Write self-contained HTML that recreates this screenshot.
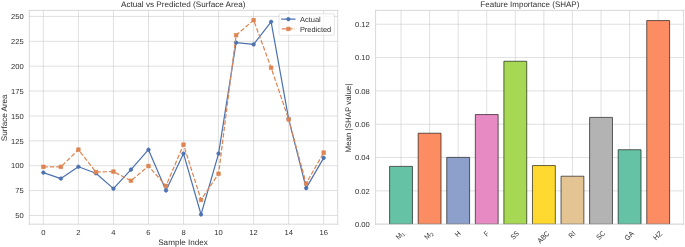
<!DOCTYPE html>
<html><head><meta charset="utf-8"><style>
html,body{margin:0;padding:0;background:#fff;}
body{width:685px;height:247px;overflow:hidden;font-family:"Liberation Sans",sans-serif;}
svg{display:block;will-change:transform;} text,tspan{text-rendering:geometricPrecision;} text,tspan{fill:#303030 !important}
</style></head><body>
<svg width="685" height="247" viewBox="11.8716 11.8881 1129.6381 407.3294" preserveAspectRatio="none"> 
<defs> 
<style type="text/css">*{stroke-linejoin: round; stroke-linecap: butt}</style> 
</defs> 
<g id="figure_1"> 
<g id="patch_1"> 
<path d="M 0 432  
L 1152 432  
L 1152 0  
L 0 0  
z 
" style="fill: #ffffff"/> 
</g> 
<g id="axes_1"> 
<g id="patch_2"> 
<path d="M 60.272872 381.61781  
L 568.774934 381.61781  
L 568.774934 29.038791  
L 60.272872 29.038791  
z 
" style="fill: #ffffff"/> 
</g> 
<g id="matplotlib.axis_1"> 
<g id="xtick_1"> 
<g id="line2d_1"> 
<path d="M 83.386602 381.61781  
L 83.386602 29.038791  
" clip-path="url(#pbd55c10c58)" style="fill: none; stroke: #cccccc; stroke-linecap: round"/> 
</g> 
<g id="text_1" transform="translate(0.000 -0.825)"> 
<text style="font-size: 12.100px; font-family: 'Liberation Sans'; text-anchor: middle; fill: #262626" x="83.386602" y="399.476092" transform="rotate(-0 83.386602 399.476092)" textLength="6.999" lengthAdjust="spacingAndGlyphs">0</text> 
</g> 
</g> 
<g id="xtick_2"> 
<g id="line2d_2"> 
<path d="M 141.170927 381.61781  
L 141.170927 29.038791  
" clip-path="url(#pbd55c10c58)" style="fill: none; stroke: #cccccc; stroke-linecap: round"/> 
</g> 
<g id="text_2" transform="translate(0.000 -0.825)"> 
<text style="font-size: 12.100px; font-family: 'Liberation Sans'; text-anchor: middle; fill: #262626" x="141.170927" y="399.476092" transform="rotate(-0 141.170927 399.476092)" textLength="6.999" lengthAdjust="spacingAndGlyphs">2</text> 
</g> 
</g> 
<g id="xtick_3"> 
<g id="line2d_3"> 
<path d="M 198.955253 381.61781  
L 198.955253 29.038791  
" clip-path="url(#pbd55c10c58)" style="fill: none; stroke: #cccccc; stroke-linecap: round"/> 
</g> 
<g id="text_3" transform="translate(0.000 -0.825)"> 
<text style="font-size: 12.100px; font-family: 'Liberation Sans'; text-anchor: middle; fill: #262626" x="198.955253" y="399.476092" transform="rotate(-0 198.955253 399.476092)" textLength="6.999" lengthAdjust="spacingAndGlyphs">4</text> 
</g> 
</g> 
<g id="xtick_4"> 
<g id="line2d_4"> 
<path d="M 256.739578 381.61781  
L 256.739578 29.038791  
" clip-path="url(#pbd55c10c58)" style="fill: none; stroke: #cccccc; stroke-linecap: round"/> 
</g> 
<g id="text_4" transform="translate(0.000 -0.825)"> 
<text style="font-size: 12.100px; font-family: 'Liberation Sans'; text-anchor: middle; fill: #262626" x="256.739578" y="399.476092" transform="rotate(-0 256.739578 399.476092)" textLength="6.999" lengthAdjust="spacingAndGlyphs">6</text> 
</g> 
</g> 
<g id="xtick_5"> 
<g id="line2d_5"> 
<path d="M 314.523903 381.61781  
L 314.523903 29.038791  
" clip-path="url(#pbd55c10c58)" style="fill: none; stroke: #cccccc; stroke-linecap: round"/> 
</g> 
<g id="text_5" transform="translate(0.000 -0.825)"> 
<text style="font-size: 12.100px; font-family: 'Liberation Sans'; text-anchor: middle; fill: #262626" x="314.523903" y="399.476092" transform="rotate(-0 314.523903 399.476092)" textLength="6.999" lengthAdjust="spacingAndGlyphs">8</text> 
</g> 
</g> 
<g id="xtick_6"> 
<g id="line2d_6"> 
<path d="M 372.308228 381.61781  
L 372.308228 29.038791  
" clip-path="url(#pbd55c10c58)" style="fill: none; stroke: #cccccc; stroke-linecap: round"/> 
</g> 
<g id="text_6" transform="translate(0.000 -0.825)"> 
<text style="font-size: 12.100px; font-family: 'Liberation Sans'; text-anchor: middle; fill: #262626" x="372.308228" y="399.476092" transform="rotate(-0 372.308228 399.476092)" textLength="13.997" lengthAdjust="spacingAndGlyphs">10</text> 
</g> 
</g> 
<g id="xtick_7"> 
<g id="line2d_7"> 
<path d="M 430.092553 381.61781  
L 430.092553 29.038791  
" clip-path="url(#pbd55c10c58)" style="fill: none; stroke: #cccccc; stroke-linecap: round"/> 
</g> 
<g id="text_7" transform="translate(0.000 -0.825)"> 
<text style="font-size: 12.100px; font-family: 'Liberation Sans'; text-anchor: middle; fill: #262626" x="430.092553" y="399.476092" transform="rotate(-0 430.092553 399.476092)" textLength="13.997" lengthAdjust="spacingAndGlyphs">12</text> 
</g> 
</g> 
<g id="xtick_8"> 
<g id="line2d_8"> 
<path d="M 487.876878 381.61781  
L 487.876878 29.038791  
" clip-path="url(#pbd55c10c58)" style="fill: none; stroke: #cccccc; stroke-linecap: round"/> 
</g> 
<g id="text_8" transform="translate(0.000 -0.825)"> 
<text style="font-size: 12.100px; font-family: 'Liberation Sans'; text-anchor: middle; fill: #262626" x="487.876878" y="399.476092" transform="rotate(-0 487.876878 399.476092)" textLength="13.997" lengthAdjust="spacingAndGlyphs">14</text> 
</g> 
</g> 
<g id="xtick_9"> 
<g id="line2d_9"> 
<path d="M 545.661204 381.61781  
L 545.661204 29.038791  
" clip-path="url(#pbd55c10c58)" style="fill: none; stroke: #cccccc; stroke-linecap: round"/> 
</g> 
<g id="text_9" transform="translate(0.000 -0.825)"> 
<text style="font-size: 12.100px; font-family: 'Liberation Sans'; text-anchor: middle; fill: #262626" x="545.661204" y="399.476092" transform="rotate(-0 545.661204 399.476092)" textLength="13.997" lengthAdjust="spacingAndGlyphs">16</text> 
</g> 
</g> 
<g id="text_10" transform="translate(-0.825 0.412)"> 
<text style="font-size: 13.200px; font-family: 'Liberation Sans'; text-anchor: middle; fill: #262626" x="314.523903" y="414.881873" transform="rotate(-0 314.523903 414.881873)" textLength="81.844" lengthAdjust="spacingAndGlyphs">Sample Index</text> 
</g> 
</g> 
<g id="matplotlib.axis_2"> 
<g id="ytick_1"> 
<g id="line2d_10"> 
<path d="M 60.272872 367.232691  
L 568.774934 367.232691  
" clip-path="url(#pbd55c10c58)" style="fill: none; stroke: #cccccc; stroke-linecap: round"/> 
</g> 
<g id="text_11" transform="translate(0.412 0.412)"> 
<text style="font-size: 12.100px; font-family: 'Liberation Sans'; text-anchor: end; fill: #262626" x="50.772872" y="371.411832" transform="rotate(-0 50.772872 371.411832)" textLength="13.997" lengthAdjust="spacingAndGlyphs">50</text> 
</g> 
</g> 
<g id="ytick_2"> 
<g id="line2d_11"> 
<path d="M 60.272872 326.202689  
L 568.774934 326.202689  
" clip-path="url(#pbd55c10c58)" style="fill: none; stroke: #cccccc; stroke-linecap: round"/> 
</g> 
<g id="text_12" transform="translate(0.412 0.412)"> 
<text style="font-size: 12.100px; font-family: 'Liberation Sans'; text-anchor: end; fill: #262626" x="50.772872" y="330.381829" transform="rotate(-0 50.772872 330.381829)" textLength="13.997" lengthAdjust="spacingAndGlyphs">75</text> 
</g> 
</g> 
<g id="ytick_3"> 
<g id="line2d_12"> 
<path d="M 60.272872 285.172686  
L 568.774934 285.172686  
" clip-path="url(#pbd55c10c58)" style="fill: none; stroke: #cccccc; stroke-linecap: round"/> 
</g> 
<g id="text_13" transform="translate(0.412 0.412)"> 
<text style="font-size: 12.100px; font-family: 'Liberation Sans'; text-anchor: end; fill: #262626" x="50.772872" y="289.351826" transform="rotate(-0 50.772872 289.351826)" textLength="20.996" lengthAdjust="spacingAndGlyphs">100</text> 
</g> 
</g> 
<g id="ytick_4"> 
<g id="line2d_13"> 
<path d="M 60.272872 244.142683  
L 568.774934 244.142683  
" clip-path="url(#pbd55c10c58)" style="fill: none; stroke: #cccccc; stroke-linecap: round"/> 
</g> 
<g id="text_14" transform="translate(0.412 0.412)"> 
<text style="font-size: 12.100px; font-family: 'Liberation Sans'; text-anchor: end; fill: #262626" x="50.772872" y="248.321824" transform="rotate(-0 50.772872 248.321824)" textLength="20.996" lengthAdjust="spacingAndGlyphs">125</text> 
</g> 
</g> 
<g id="ytick_5"> 
<g id="line2d_14"> 
<path d="M 60.272872 203.11268  
L 568.774934 203.11268  
" clip-path="url(#pbd55c10c58)" style="fill: none; stroke: #cccccc; stroke-linecap: round"/> 
</g> 
<g id="text_15" transform="translate(0.412 0.412)"> 
<text style="font-size: 12.100px; font-family: 'Liberation Sans'; text-anchor: end; fill: #262626" x="50.772872" y="207.291821" transform="rotate(-0 50.772872 207.291821)" textLength="20.996" lengthAdjust="spacingAndGlyphs">150</text> 
</g> 
</g> 
<g id="ytick_6"> 
<g id="line2d_15"> 
<path d="M 60.272872 162.082678  
L 568.774934 162.082678  
" clip-path="url(#pbd55c10c58)" style="fill: none; stroke: #cccccc; stroke-linecap: round"/> 
</g> 
<g id="text_16" transform="translate(0.412 0.412)"> 
<text style="font-size: 12.100px; font-family: 'Liberation Sans'; text-anchor: end; fill: #262626" x="50.772872" y="166.261818" transform="rotate(-0 50.772872 166.261818)" textLength="20.996" lengthAdjust="spacingAndGlyphs">175</text> 
</g> 
</g> 
<g id="ytick_7"> 
<g id="line2d_16"> 
<path d="M 60.272872 121.052675  
L 568.774934 121.052675  
" clip-path="url(#pbd55c10c58)" style="fill: none; stroke: #cccccc; stroke-linecap: round"/> 
</g> 
<g id="text_17" transform="translate(0.412 0.412)"> 
<text style="font-size: 12.100px; font-family: 'Liberation Sans'; text-anchor: end; fill: #262626" x="50.772872" y="125.231815" transform="rotate(-0 50.772872 125.231815)" textLength="20.996" lengthAdjust="spacingAndGlyphs">200</text> 
</g> 
</g> 
<g id="ytick_8"> 
<g id="line2d_17"> 
<path d="M 60.272872 80.022672  
L 568.774934 80.022672  
" clip-path="url(#pbd55c10c58)" style="fill: none; stroke: #cccccc; stroke-linecap: round"/> 
</g> 
<g id="text_18" transform="translate(0.412 0.412)"> 
<text style="font-size: 12.100px; font-family: 'Liberation Sans'; text-anchor: end; fill: #262626" x="50.772872" y="84.201813" transform="rotate(-0 50.772872 84.201813)" textLength="20.996" lengthAdjust="spacingAndGlyphs">225</text> 
</g> 
</g> 
<g id="ytick_9"> 
<g id="line2d_18"> 
<path d="M 60.272872 38.992669  
L 568.774934 38.992669  
" clip-path="url(#pbd55c10c58)" style="fill: none; stroke: #cccccc; stroke-linecap: round"/> 
</g> 
<g id="text_19" transform="translate(0.412 0.412)"> 
<text style="font-size: 12.100px; font-family: 'Liberation Sans'; text-anchor: end; fill: #262626" x="50.772872" y="43.17181" transform="rotate(-0 50.772872 43.17181)" textLength="20.996" lengthAdjust="spacingAndGlyphs">250</text> 
</g> 
</g> 
<g id="text_20" transform="translate(-0.412 0.825)"> 
<text style="font-size: 13.200px; font-family: 'Liberation Sans'; text-anchor: middle; fill: #262626" x="23.280997" y="205.328301" transform="rotate(-90 23.280997 205.328301)" textLength="77.145" lengthAdjust="spacingAndGlyphs">Surface Area</text> 
</g> 
</g> 
<g id="line2d_19"> 
<path d="M 83.386602 296.496967  
L 112.278765 306.344167  
L 141.170927 286.813886  
L 170.06309 297.645807  
L 198.955253 322.920288  
L 227.847415 291.573366  
L 256.739578 258.749364  
L 285.63174 326.038569  
L 314.523903 265.150045  
L 343.416065 365.591491  
L 372.308228 265.150045  
L 401.200391 82.156232  
L 430.092553 85.110392  
L 458.984716 47.85515  
L 487.876878 208.036281  
L 516.769041 322.099688  
L 545.661204 272.207205  
" clip-path="url(#pbd55c10c58)" style="fill: none; stroke: #4c72b0; stroke-width: 2; stroke-linecap: round"/> 
<defs> 
<path id="m9d25371bbb" d="M 0 3  
C 0.795609 3 1.55874 2.683901 2.12132 2.12132  
C 2.683901 1.55874 3 0.795609 3 0  
C 3 -0.795609 2.683901 -1.55874 2.12132 -2.12132  
C 1.55874 -2.683901 0.795609 -3 0 -3  
C -0.795609 -3 -1.55874 -2.683901 -2.12132 -2.12132  
C -2.683901 -1.55874 -3 -0.795609 -3 0  
C -3 0.795609 -2.683901 1.55874 -2.12132 2.12132  
C -1.55874 2.683901 -0.795609 3 0 3  
z 
" style="stroke: #4c72b0"/> 
</defs> 
<g clip-path="url(#pbd55c10c58)"> 
<use href="#m9d25371bbb" x="83.386602" y="296.496967" style="fill: #4c72b0; stroke: #4c72b0"/> 
<use href="#m9d25371bbb" x="112.278765" y="306.344167" style="fill: #4c72b0; stroke: #4c72b0"/> 
<use href="#m9d25371bbb" x="141.170927" y="286.813886" style="fill: #4c72b0; stroke: #4c72b0"/> 
<use href="#m9d25371bbb" x="170.06309" y="297.645807" style="fill: #4c72b0; stroke: #4c72b0"/> 
<use href="#m9d25371bbb" x="198.955253" y="322.920288" style="fill: #4c72b0; stroke: #4c72b0"/> 
<use href="#m9d25371bbb" x="227.847415" y="291.573366" style="fill: #4c72b0; stroke: #4c72b0"/> 
<use href="#m9d25371bbb" x="256.739578" y="258.749364" style="fill: #4c72b0; stroke: #4c72b0"/> 
<use href="#m9d25371bbb" x="285.63174" y="326.038569" style="fill: #4c72b0; stroke: #4c72b0"/> 
<use href="#m9d25371bbb" x="314.523903" y="265.150045" style="fill: #4c72b0; stroke: #4c72b0"/> 
<use href="#m9d25371bbb" x="343.416065" y="365.591491" style="fill: #4c72b0; stroke: #4c72b0"/> 
<use href="#m9d25371bbb" x="372.308228" y="265.150045" style="fill: #4c72b0; stroke: #4c72b0"/> 
<use href="#m9d25371bbb" x="401.200391" y="82.156232" style="fill: #4c72b0; stroke: #4c72b0"/> 
<use href="#m9d25371bbb" x="430.092553" y="85.110392" style="fill: #4c72b0; stroke: #4c72b0"/> 
<use href="#m9d25371bbb" x="458.984716" y="47.85515" style="fill: #4c72b0; stroke: #4c72b0"/> 
<use href="#m9d25371bbb" x="487.876878" y="208.036281" style="fill: #4c72b0; stroke: #4c72b0"/> 
<use href="#m9d25371bbb" x="516.769041" y="322.099688" style="fill: #4c72b0; stroke: #4c72b0"/> 
<use href="#m9d25371bbb" x="545.661204" y="272.207205" style="fill: #4c72b0; stroke: #4c72b0"/> 
</g> 
</g> 
<g id="line2d_20"> 
<path d="M 83.386602 286.978006  
L 112.278765 286.978006  
L 141.170927 258.749364  
L 170.06309 295.676367  
L 198.955253 294.855767  
L 227.847415 309.954808  
L 256.739578 285.665046  
L 285.63174 318.489048  
L 314.523903 250.379244  
L 343.416065 341.46585  
L 372.308228 298.466407  
L 401.200391 70.011351  
L 430.092553 45.06511  
L 458.984716 123.678595  
L 487.876878 208.692761  
L 516.769041 314.550168  
L 545.661204 263.508844  
" clip-path="url(#pbd55c10c58)" style="fill: none; stroke-dasharray: 7.4,3.2; stroke-dashoffset: 0; stroke: #dd8452; stroke-width: 2"/> 
<defs> 
<path id="m1f9190dd8e" d="M -3 3  
L 3 3  
L 3 -3  
L -3 -3  
z 
" style="stroke: #dd8452; stroke-linejoin: miter"/> 
</defs> 
<g clip-path="url(#pbd55c10c58)"> 
<use href="#m1f9190dd8e" x="83.386602" y="286.978006" style="fill: #dd8452; stroke: #dd8452; stroke-linejoin: miter"/> 
<use href="#m1f9190dd8e" x="112.278765" y="286.978006" style="fill: #dd8452; stroke: #dd8452; stroke-linejoin: miter"/> 
<use href="#m1f9190dd8e" x="141.170927" y="258.749364" style="fill: #dd8452; stroke: #dd8452; stroke-linejoin: miter"/> 
<use href="#m1f9190dd8e" x="170.06309" y="295.676367" style="fill: #dd8452; stroke: #dd8452; stroke-linejoin: miter"/> 
<use href="#m1f9190dd8e" x="198.955253" y="294.855767" style="fill: #dd8452; stroke: #dd8452; stroke-linejoin: miter"/> 
<use href="#m1f9190dd8e" x="227.847415" y="309.954808" style="fill: #dd8452; stroke: #dd8452; stroke-linejoin: miter"/> 
<use href="#m1f9190dd8e" x="256.739578" y="285.665046" style="fill: #dd8452; stroke: #dd8452; stroke-linejoin: miter"/> 
<use href="#m1f9190dd8e" x="285.63174" y="318.489048" style="fill: #dd8452; stroke: #dd8452; stroke-linejoin: miter"/> 
<use href="#m1f9190dd8e" x="314.523903" y="250.379244" style="fill: #dd8452; stroke: #dd8452; stroke-linejoin: miter"/> 
<use href="#m1f9190dd8e" x="343.416065" y="341.46585" style="fill: #dd8452; stroke: #dd8452; stroke-linejoin: miter"/> 
<use href="#m1f9190dd8e" x="372.308228" y="298.466407" style="fill: #dd8452; stroke: #dd8452; stroke-linejoin: miter"/> 
<use href="#m1f9190dd8e" x="401.200391" y="70.011351" style="fill: #dd8452; stroke: #dd8452; stroke-linejoin: miter"/> 
<use href="#m1f9190dd8e" x="430.092553" y="45.06511" style="fill: #dd8452; stroke: #dd8452; stroke-linejoin: miter"/> 
<use href="#m1f9190dd8e" x="458.984716" y="123.678595" style="fill: #dd8452; stroke: #dd8452; stroke-linejoin: miter"/> 
<use href="#m1f9190dd8e" x="487.876878" y="208.692761" style="fill: #dd8452; stroke: #dd8452; stroke-linejoin: miter"/> 
<use href="#m1f9190dd8e" x="516.769041" y="314.550168" style="fill: #dd8452; stroke: #dd8452; stroke-linejoin: miter"/> 
<use href="#m1f9190dd8e" x="545.661204" y="263.508844" style="fill: #dd8452; stroke: #dd8452; stroke-linejoin: miter"/> 
</g> 
</g> 
<g id="patch_3"> 
<path d="M 60.272872 381.61781  
L 60.272872 29.038791  
" style="fill: none; stroke: #cccccc; stroke-width: 1.25; stroke-linejoin: miter; stroke-linecap: square"/> 
</g> 
<g id="patch_4"> 
<path d="M 568.774934 381.61781  
L 568.774934 29.038791  
" style="fill: none; stroke: #cccccc; stroke-width: 1.25; stroke-linejoin: miter; stroke-linecap: square"/> 
</g> 
<g id="patch_5"> 
<path d="M 60.272872 381.61781  
L 568.774934 381.61781  
" style="fill: none; stroke: #cccccc; stroke-width: 1.25; stroke-linejoin: miter; stroke-linecap: square"/> 
</g> 
<g id="patch_6"> 
<path d="M 60.272872 29.038791  
L 568.774934 29.038791  
" style="fill: none; stroke: #cccccc; stroke-width: 1.25; stroke-linejoin: miter; stroke-linecap: square"/> 
</g> 
<g id="text_21" transform="translate(-0.412 -0.412)"> 
<text style="font-size: 13.200px; font-family: 'Liberation Sans'; text-anchor: middle; fill: #262626" x="314.523903" y="23.038791" transform="rotate(-0 314.523903 23.038791)" textLength="205.232" lengthAdjust="spacingAndGlyphs">Actual vs Predicted (Surface Area)</text> 
</g> 
<g id="legend_1"> 
<g id="patch_7"> 
<path d="M 474.240246 70.130666  
L 561.074934 70.130666  
Q 563.274934 70.130666 563.274934 67.930666  
L 563.274934 36.738791  
Q 563.274934 34.538791 561.074934 34.538791  
L 474.240246 34.538791  
Q 472.040246 34.538791 472.040246 36.738791  
L 472.040246 67.930666  
Q 472.040246 70.130666 474.240246 70.130666  
z 
" style="fill: #ffffff; opacity: 0.8; stroke: #cccccc; stroke-linejoin: miter"/> 
</g> 
<g id="line2d_21"> 
<path d="M 476.440246 43.447072  
L 487.440246 43.447072  
L 498.440246 43.447072  
" style="fill: none; stroke: #4c72b0; stroke-width: 2; stroke-linecap: round"/> 
<g> 
<use href="#m9d25371bbb" x="487.440246" y="43.447072" style="fill: #4c72b0; stroke: #4c72b0"/> 
</g> 
</g> 
<g id="text_22" transform="translate(-0.825 0.412)"> 
<text style="font-size: 12.100px; font-family: 'Liberation Sans'; text-anchor: start; fill: #262626" x="507.240246" y="47.297072" transform="rotate(-0 507.240246 47.297072)" textLength="34.461" lengthAdjust="spacingAndGlyphs">Actual</text> 
</g> 
<g id="line2d_22"> 
<path d="M 476.440246 59.593009  
L 487.440246 59.593009  
L 498.440246 59.593009  
" style="fill: none; stroke-dasharray: 7.4,3.2; stroke-dashoffset: 0; stroke: #dd8452; stroke-width: 2"/> 
<g> 
<use href="#m1f9190dd8e" x="487.440246" y="59.593009" style="fill: #dd8452; stroke: #dd8452; stroke-linejoin: miter"/> 
</g> 
</g> 
<g id="text_23" transform="translate(-0.825 0.412)"> 
<text style="font-size: 12.100px; font-family: 'Liberation Sans'; text-anchor: start; fill: #262626" x="507.240246" y="63.443009" transform="rotate(-0 507.240246 63.443009)" textLength="51.638" lengthAdjust="spacingAndGlyphs">Predicted</text> 
</g> 
</g> 
</g> 
<g id="axes_2"> 
<g id="patch_8"> 
<path d="M 631.276079 381.61781  
L 1139.200953 381.61781  
L 1139.200953 29.038791  
L 631.276079 29.038791  
z 
" style="fill: #ffffff"/> 
</g> 
<g id="matplotlib.axis_3"> 
<g id="xtick_10"> 
<g id="line2d_23"> 
<path d="M 673.210507 381.61781  
L 673.210507 29.038791  
" clip-path="url(#p35ce5a3aeb)" style="fill: none; stroke: #cccccc; stroke-linecap: round"/> 
</g> 
<g id="text_24" transform="translate(0.000 0.825)"> 
<g style="fill: #262626" transform="translate(670.106529 407.528543) rotate(-45)"> 
<text> 
<tspan x="0" y="-0.984375" style="font-size: 12.100px; font-family: 'Liberation Sans'; fill: #262626" textLength="9.491" lengthAdjust="spacingAndGlyphs">M</tspan> 
<tspan x="9.595996" y="0.820312" style="font-size: 8.470px; font-family: 'Liberation Sans'; fill: #262626" textLength="4.899" lengthAdjust="spacingAndGlyphs">1</tspan> 
</text> 
</g> 
</g> 
</g> 
<g id="xtick_11"> 
<g id="line2d_24"> 
<path d="M 720.327842 381.61781  
L 720.327842 29.038791  
" clip-path="url(#p35ce5a3aeb)" style="fill: none; stroke: #cccccc; stroke-linecap: round"/> 
</g> 
<g id="text_25" transform="translate(0.000 0.825)"> 
<g style="fill: #262626" transform="translate(717.223865 407.528543) rotate(-45)"> 
<text> 
<tspan x="0" y="-0.984375" style="font-size: 12.100px; font-family: 'Liberation Sans'; fill: #262626" textLength="9.491" lengthAdjust="spacingAndGlyphs">M</tspan> 
<tspan x="9.595996" y="0.820312" style="font-size: 8.470px; font-family: 'Liberation Sans'; fill: #262626" textLength="4.899" lengthAdjust="spacingAndGlyphs">2</tspan> 
</text> 
</g> 
</g> 
</g> 
<g id="xtick_12"> 
<g id="line2d_25"> 
<path d="M 767.445178 381.61781  
L 767.445178 29.038791  
" clip-path="url(#p35ce5a3aeb)" style="fill: none; stroke: #cccccc; stroke-linecap: round"/> 
</g> 
<g id="text_26" transform="translate(0.000 0.825)"> 
<text style="font-size: 12.100px; font-family: 'Liberation Sans'; fill: #262626" transform="translate(766.666753 402.877438) rotate(-45)" textLength="8.271" lengthAdjust="spacingAndGlyphs">H</text> 
</g> 
</g> 
<g id="xtick_13"> 
<g id="line2d_26"> 
<path d="M 814.562513 381.61781  
L 814.562513 29.038791  
" clip-path="url(#p35ce5a3aeb)" style="fill: none; stroke: #cccccc; stroke-linecap: round"/> 
</g> 
<g id="text_27" transform="translate(0.000 0.825)"> 
<text style="font-size: 12.100px; font-family: 'Liberation Sans'; fill: #262626" transform="translate(814.47197 401.501673) rotate(-45)" textLength="6.327" lengthAdjust="spacingAndGlyphs">F</text> 
</g> 
</g> 
<g id="xtick_14"> 
<g id="line2d_27"> 
<path d="M 861.679848 381.61781  
L 861.679848 29.038791  
" clip-path="url(#p35ce5a3aeb)" style="fill: none; stroke: #cccccc; stroke-linecap: round"/> 
</g> 
<g id="text_28" transform="translate(0.000 0.825)"> 
<text style="font-size: 12.100px; font-family: 'Liberation Sans'; fill: #262626" transform="translate(858.888213 406.903859) rotate(-45)" textLength="13.965" lengthAdjust="spacingAndGlyphs">SS</text> 
</g> 
</g> 
<g id="xtick_15"> 
<g id="line2d_28"> 
<path d="M 908.797183 381.61781  
L 908.797183 29.038791  
" clip-path="url(#p35ce5a3aeb)" style="fill: none; stroke: #cccccc; stroke-linecap: round"/> 
</g> 
<g id="text_29" transform="translate(0.000 0.825)"> 
<text style="font-size: 12.100px; font-family: 'Liberation Sans'; fill: #262626" transform="translate(902.967199 412.980558) rotate(-45)" textLength="22.559" lengthAdjust="spacingAndGlyphs">ABC</text> 
</g> 
</g> 
<g id="xtick_16"> 
<g id="line2d_29"> 
<path d="M 955.914519 381.61781  
L 955.914519 29.038791  
" clip-path="url(#p35ce5a3aeb)" style="fill: none; stroke: #cccccc; stroke-linecap: round"/> 
</g> 
<g id="text_30" transform="translate(0.000 0.825)"> 
<text style="font-size: 12.100px; font-family: 'Liberation Sans'; fill: #262626" transform="translate(954.21122 404.727185) rotate(-45)" textLength="10.887" lengthAdjust="spacingAndGlyphs">RI</text> 
</g> 
</g> 
<g id="xtick_17"> 
<g id="line2d_30"> 
<path d="M 1003.031854 381.61781  
L 1003.031854 29.038791  
" clip-path="url(#p35ce5a3aeb)" style="fill: none; stroke: #cccccc; stroke-linecap: round"/> 
</g> 
<g id="text_31" transform="translate(0.000 0.825)"> 
<text style="font-size: 12.100px; font-family: 'Liberation Sans'; fill: #262626" transform="translate(999.993504 407.397287) rotate(-45)" textLength="14.663" lengthAdjust="spacingAndGlyphs">SC</text> 
</g> 
</g> 
<g id="xtick_18"> 
<g id="line2d_31"> 
<path d="M 1050.149189 381.61781  
L 1050.149189 29.038791  
" clip-path="url(#p35ce5a3aeb)" style="fill: none; stroke: #cccccc; stroke-linecap: round"/> 
</g> 
<g id="text_32" transform="translate(0.000 0.825)"> 
<text style="font-size: 12.100px; font-family: 'Liberation Sans'; fill: #262626" transform="translate(1046.621665 408.375635) rotate(-45)" textLength="16.049" lengthAdjust="spacingAndGlyphs">GA</text> 
</g> 
</g> 
<g id="xtick_19"> 
<g id="line2d_32"> 
<path d="M 1097.266524 381.61781  
L 1097.266524 29.038791  
" clip-path="url(#p35ce5a3aeb)" style="fill: none; stroke: #cccccc; stroke-linecap: round"/> 
</g> 
<g id="text_33" transform="translate(0.000 0.825)"> 
<text style="font-size: 12.100px; font-family: 'Liberation Sans'; fill: #262626" transform="translate(1093.824075 408.205488) rotate(-45)" textLength="15.807" lengthAdjust="spacingAndGlyphs">HZ</text> 
</g> 
</g> 
</g> 
<g id="matplotlib.axis_4"> 
<g id="ytick_10"> 
<g id="line2d_33"> 
<path d="M 631.276079 381.61781  
L 1139.200953 381.61781  
" clip-path="url(#p35ce5a3aeb)" style="fill: none; stroke: #cccccc; stroke-linecap: round"/> 
</g> 
<g id="text_34" transform="translate(0.000 0.412)"> 
<text style="font-size: 12.100px; font-family: 'Liberation Sans'; text-anchor: end; fill: #262626" x="621.776079" y="385.796951" transform="rotate(-0 621.776079 385.796951)" textLength="24.492" lengthAdjust="spacingAndGlyphs">0.00</text> 
</g> 
</g> 
<g id="ytick_11"> 
<g id="line2d_34"> 
<path d="M 631.276079 326.660438  
L 1139.200953 326.660438  
" clip-path="url(#p35ce5a3aeb)" style="fill: none; stroke: #cccccc; stroke-linecap: round"/> 
</g> 
<g id="text_35" transform="translate(0.000 0.412)"> 
<text style="font-size: 12.100px; font-family: 'Liberation Sans'; text-anchor: end; fill: #262626" x="621.776079" y="330.839579" transform="rotate(-0 621.776079 330.839579)" textLength="24.492" lengthAdjust="spacingAndGlyphs">0.02</text> 
</g> 
</g> 
<g id="ytick_12"> 
<g id="line2d_35"> 
<path d="M 631.276079 271.703066  
L 1139.200953 271.703066  
" clip-path="url(#p35ce5a3aeb)" style="fill: none; stroke: #cccccc; stroke-linecap: round"/> 
</g> 
<g id="text_36" transform="translate(0.000 0.412)"> 
<text style="font-size: 12.100px; font-family: 'Liberation Sans'; text-anchor: end; fill: #262626" x="621.776079" y="275.882207" transform="rotate(-0 621.776079 275.882207)" textLength="24.492" lengthAdjust="spacingAndGlyphs">0.04</text> 
</g> 
</g> 
<g id="ytick_13"> 
<g id="line2d_36"> 
<path d="M 631.276079 216.745695  
L 1139.200953 216.745695  
" clip-path="url(#p35ce5a3aeb)" style="fill: none; stroke: #cccccc; stroke-linecap: round"/> 
</g> 
<g id="text_37" transform="translate(0.000 0.412)"> 
<text style="font-size: 12.100px; font-family: 'Liberation Sans'; text-anchor: end; fill: #262626" x="621.776079" y="220.924835" transform="rotate(-0 621.776079 220.924835)" textLength="24.492" lengthAdjust="spacingAndGlyphs">0.06</text> 
</g> 
</g> 
<g id="ytick_14"> 
<g id="line2d_37"> 
<path d="M 631.276079 161.788323  
L 1139.200953 161.788323  
" clip-path="url(#p35ce5a3aeb)" style="fill: none; stroke: #cccccc; stroke-linecap: round"/> 
</g> 
<g id="text_38" transform="translate(0.000 0.412)"> 
<text style="font-size: 12.100px; font-family: 'Liberation Sans'; text-anchor: end; fill: #262626" x="621.776079" y="165.967463" transform="rotate(-0 621.776079 165.967463)" textLength="24.492" lengthAdjust="spacingAndGlyphs">0.08</text> 
</g> 
</g> 
<g id="ytick_15"> 
<g id="line2d_38"> 
<path d="M 631.276079 106.830951  
L 1139.200953 106.830951  
" clip-path="url(#p35ce5a3aeb)" style="fill: none; stroke: #cccccc; stroke-linecap: round"/> 
</g> 
<g id="text_39" transform="translate(0.000 0.412)"> 
<text style="font-size: 12.100px; font-family: 'Liberation Sans'; text-anchor: end; fill: #262626" x="621.776079" y="111.010091" transform="rotate(-0 621.776079 111.010091)" textLength="24.492" lengthAdjust="spacingAndGlyphs">0.10</text> 
</g> 
</g> 
<g id="ytick_16"> 
<g id="line2d_39"> 
<path d="M 631.276079 51.873579  
L 1139.200953 51.873579  
" clip-path="url(#p35ce5a3aeb)" style="fill: none; stroke: #cccccc; stroke-linecap: round"/> 
</g> 
<g id="text_40" transform="translate(0.000 0.412)"> 
<text style="font-size: 12.100px; font-family: 'Liberation Sans'; text-anchor: end; fill: #262626" x="621.776079" y="56.052719" transform="rotate(-0 621.776079 56.052719)" textLength="24.492" lengthAdjust="spacingAndGlyphs">0.12</text> 
</g> 
</g> 
<g id="text_41" transform="translate(-0.412 1.237)"> 
<text style="font-size: 13.200px; font-family: 'Liberation Sans'; text-anchor: middle; fill: #262626" x="590.454516" y="205.328301" transform="rotate(-90 590.454516 205.328301)" textLength="113.274" lengthAdjust="spacingAndGlyphs">Mean |SHAP value|</text> 
</g> 
</g> 
<g id="patch_9"> 
<path d="M 654.363573 381.61781  
L 692.057441 381.61781  
L 692.057441 286.26677  
L 654.363573 286.26677  
z 
" clip-path="url(#p35ce5a3aeb)" style="fill: #66c2a5; stroke: #000000; stroke-linejoin: miter"/> 
</g> 
<g id="patch_10"> 
<path d="M 701.480908 381.61781  
L 739.174777 381.61781  
L 739.174777 231.584185  
L 701.480908 231.584185  
z 
" clip-path="url(#p35ce5a3aeb)" style="fill: #fc8d62; stroke: #000000; stroke-linejoin: miter"/> 
</g> 
<g id="patch_11"> 
<path d="M 748.598244 381.61781  
L 786.292112 381.61781  
L 786.292112 271.42828  
L 748.598244 271.42828  
z 
" clip-path="url(#p35ce5a3aeb)" style="fill: #8da0cb; stroke: #000000; stroke-linejoin: miter"/> 
</g> 
<g id="patch_12"> 
<path d="M 795.715579 381.61781  
L 833.409447 381.61781  
L 833.409447 200.808057  
L 795.715579 200.808057  
z 
" clip-path="url(#p35ce5a3aeb)" style="fill: #e78ac3; stroke: #000000; stroke-linejoin: miter"/> 
</g> 
<g id="patch_13"> 
<path d="M 842.832914 381.61781  
L 880.526782 381.61781  
L 880.526782 112.876262  
L 842.832914 112.876262  
z 
" clip-path="url(#p35ce5a3aeb)" style="fill: #a6d854; stroke: #000000; stroke-linejoin: miter"/> 
</g> 
<g id="patch_14"> 
<path d="M 889.950249 381.61781  
L 927.644118 381.61781  
L 927.644118 284.892836  
L 889.950249 284.892836  
z 
" clip-path="url(#p35ce5a3aeb)" style="fill: #ffd92f; stroke: #000000; stroke-linejoin: miter"/> 
</g> 
<g id="patch_15"> 
<path d="M 937.067585 381.61781  
L 974.761453 381.61781  
L 974.761453 302.479195  
L 937.067585 302.479195  
z 
" clip-path="url(#p35ce5a3aeb)" style="fill: #e5c494; stroke: #000000; stroke-linejoin: miter"/> 
</g> 
<g id="patch_16"> 
<path d="M 984.18492 381.61781  
L 1021.878788 381.61781  
L 1021.878788 205.479433  
L 984.18492 205.479433  
z 
" clip-path="url(#p35ce5a3aeb)" style="fill: #b3b3b3; stroke: #000000; stroke-linejoin: miter"/> 
</g> 
<g id="patch_17"> 
<path d="M 1031.302255 381.61781  
L 1068.996123 381.61781  
L 1068.996123 258.788084  
L 1031.302255 258.788084  
z 
" clip-path="url(#p35ce5a3aeb)" style="fill: #66c2a5; stroke: #000000; stroke-linejoin: miter"/> 
</g> 
<g id="patch_18"> 
<path d="M 1078.41959 381.61781  
L 1116.113459 381.61781  
L 1116.113459 45.828268  
L 1078.41959 45.828268  
z 
" clip-path="url(#p35ce5a3aeb)" style="fill: #fc8d62; stroke: #000000; stroke-linejoin: miter"/> 
</g> 
<g id="patch_19"> 
<path d="M 631.276079 381.61781  
L 631.276079 29.038791  
" style="fill: none; stroke: #cccccc; stroke-width: 1.25; stroke-linejoin: miter; stroke-linecap: square"/> 
</g> 
<g id="patch_20"> 
<path d="M 1139.200953 381.61781  
L 1139.200953 29.038791  
" style="fill: none; stroke: #cccccc; stroke-width: 1.25; stroke-linejoin: miter; stroke-linecap: square"/> 
</g> 
<g id="patch_21"> 
<path d="M 631.276079 381.61781  
L 1139.200953 381.61781  
" style="fill: none; stroke: #cccccc; stroke-width: 1.25; stroke-linejoin: miter; stroke-linecap: square"/> 
</g> 
<g id="patch_22"> 
<path d="M 631.276079 29.038791  
L 1139.200953 29.038791  
" style="fill: none; stroke: #cccccc; stroke-width: 1.25; stroke-linejoin: miter; stroke-linecap: square"/> 
</g> 
<g id="text_42" transform="translate(0.412 -0.412)"> 
<text style="font-size: 13.200px; font-family: 'Liberation Sans'; text-anchor: middle; fill: #262626" x="885.238516" y="23.038791" transform="rotate(-0 885.238516 23.038791)" textLength="163.190" lengthAdjust="spacingAndGlyphs">Feature Importance (SHAP)</text> 
</g> 
</g> 
</g> 
<defs> 
<clipPath id="pbd55c10c58"> 
<rect x="60.272872" y="29.038791" width="508.502061" height="352.57902"/> 
</clipPath> 
<clipPath id="p35ce5a3aeb"> 
<rect x="631.276079" y="29.038791" width="507.924874" height="352.57902"/> 
</clipPath> 
</defs> 
</svg> 

</body></html>
